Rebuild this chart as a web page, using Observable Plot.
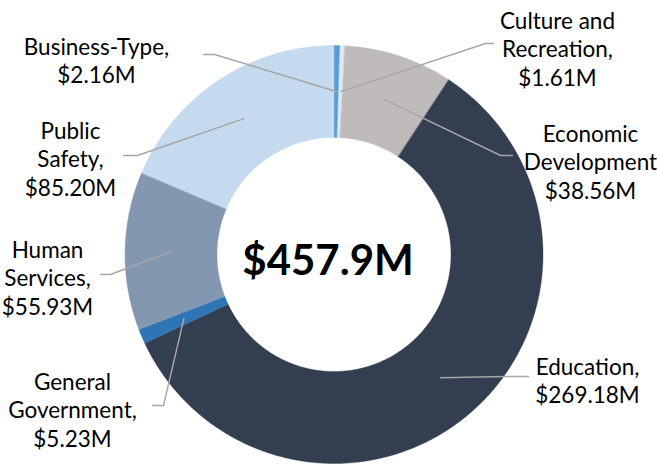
<!DOCTYPE html>
<html><head><meta charset="utf-8">
<script src="https://cdn.jsdelivr.net/npm/d3@7"></script>
<script src="https://cdn.jsdelivr.net/npm/@observablehq/plot@0.6"></script>
<style>body{margin:0;background:#fff;} #chart{width:657px;height:465px;}</style>
</head><body><div id="chart"></div>
<script>
// ---- data ----
const categories = ["Business-Type","Culture and Recreation","Economic Development","Education","General Government","Human Services","Public Safety"];
const values = [2.16, 1.61, 38.56, 269.18, 5.23, 55.93, 85.20];
const labelTexts = ["Business-Type,\n$2.16M","Culture and\nRecreation,\n$1.61M","Economic\nDevelopment\n$38.56M","Education,\n$269.18M","General\nGovernment,\n$5.23M","Human\nServices,\n$55.93M","Public\nSafety,\n$85.20M"];
const totalLabel = "$457.9M";
const colors = ["#5B9BD5","#DDEBF7","#BFBBBA","#333F50","#2E75B6","#8497B0","#C5D9EF"];

// ---- layout ----
const W = 657, H = 465, cx = 333.5, cy = 254, rOuter = 209, rInner = 117, rLeader = 163;
// [textCenterX, textTopY, elbowX, elbowY, endX]
const labelLayout = [
  [96, 34, 214, 54, 203],
  [557, 8, 485, 43, 493],
  [590, 121, 500, 155, 512],
  [587, 354, 505, 376, 528],
  [72, 369, 163, 405, 152],
  [47, 237, 110, 274, 100],
  [70, 118, 137, 155, 123]
];
const totalPos = [327.5, 245];

const data = categories.map((name, i) => ({name, value: values[i]}));
const arcs = d3.pie().sort(null).value(d => d.value)(data);

const pt = (a, r) => ({x: cx + r * Math.sin(a), y: cy - r * Math.cos(a)});
const slicePts = [];
arcs.forEach(a => {
  const n = Math.max(2, Math.ceil((a.endAngle - a.startAngle) / (Math.PI / 360)));
  for (let k = 0; k <= n; k++) {
    const t = a.startAngle + (a.endAngle - a.startAngle) * k / n;
    slicePts.push({name: a.data.name, ...pt(t, rOuter)});
  }
  for (let k = n; k >= 0; k--) {
    const t = a.startAngle + (a.endAngle - a.startAngle) * k / n;
    slicePts.push({name: a.data.name, ...pt(t, rInner)});
  }
});

const leaderPts = [];
arcs.forEach((a, i) => {
  const mid = (a.startAngle + a.endAngle) / 2;
  const L = labelLayout[i];
  leaderPts.push({name: a.data.name, ...pt(mid, rLeader)});
  leaderPts.push({name: a.data.name, x: L[2], y: L[3]});
  leaderPts.push({name: a.data.name, x: L[4], y: L[3]});
});

const labels = categories.map((name, i) => ({name, text: labelTexts[i], x: labelLayout[i][0], y: labelLayout[i][1]}));

const chart = Plot.plot({
  width: W, height: H, margin: 0,
  style: {fontFamily: "Lato, sans-serif", background: "#fff"},
  x: {domain: [0, W], range: [0, W], axis: null},
  y: {domain: [0, H], range: [0, H], axis: null},
  color: {type: "ordinal", domain: categories, range: colors},
  marks: [
    Plot.line(slicePts, {x: "x", y: "y", z: "name", fill: "name", stroke: "name", strokeWidth: 0.4, curve: "linear-closed"}),
    Plot.line(leaderPts, {x: "x", y: "y", z: "name", stroke: "#A6A6A6", strokeWidth: 1.4}),
    Plot.text(labels, {x: "x", y: "y", text: "text", textAnchor: "middle", lineAnchor: "top", fontSize: 22.5, lineHeight: 1.27, fill: "#000"}),
    Plot.text([totalLabel], {x: () => totalPos[0], y: () => totalPos[1], text: d => d, textAnchor: "middle", lineAnchor: "top", fontSize: 42, fontWeight: "bold", fill: "#000"})
  ]
});
document.getElementById("chart").appendChild(chart);
</script>
</body></html>
